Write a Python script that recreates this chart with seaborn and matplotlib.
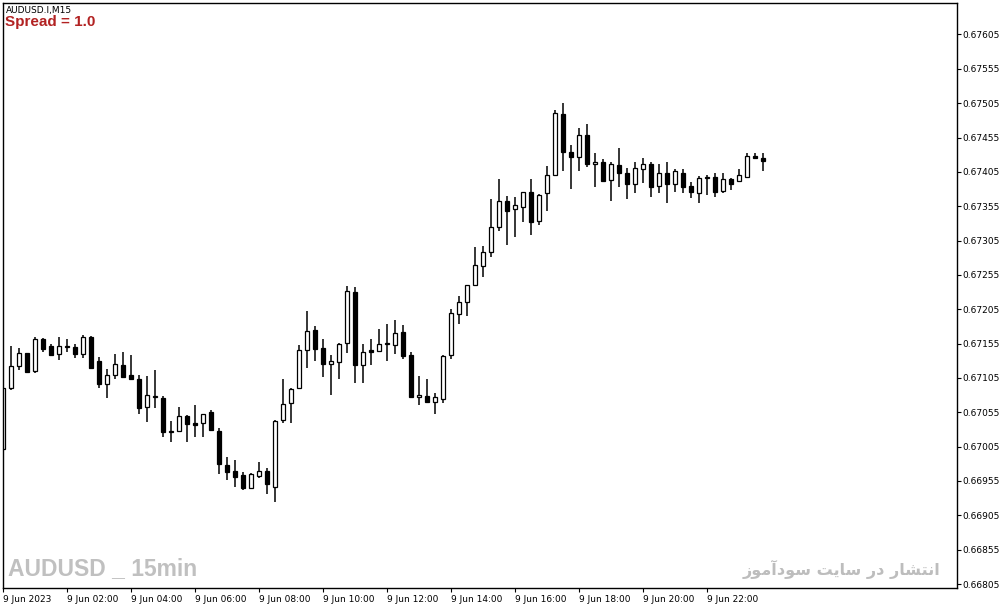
import numpy as np
import pandas as pd
import seaborn as sns
import matplotlib.pyplot as plt

# AUDUSD M15 candles, 9 Jun 2023 00:00 .. 23:45
opens = [0.67002, 0.67090, 0.67122, 0.67141, 0.67115, 0.67162, 0.67152, 0.67140, 0.67150, 0.67150,
         0.67140, 0.67165, 0.67130, 0.67096, 0.67109, 0.67124, 0.67109, 0.67103, 0.67063, 0.67077,
         0.67076, 0.67027, 0.67028, 0.67050, 0.67039, 0.67039, 0.67055, 0.67028, 0.66978, 0.66970,
         0.66964, 0.66945, 0.66962, 0.66970, 0.66946, 0.67044, 0.67068, 0.67090, 0.67146, 0.67175,
         0.67149, 0.67125, 0.67128, 0.67156, 0.67230, 0.67124, 0.67145, 0.67144, 0.67155, 0.67153,
         0.67172, 0.67138, 0.67077, 0.67079, 0.67070, 0.67074, 0.67138, 0.67198, 0.67215, 0.67240,
         0.67268, 0.67288, 0.67325, 0.67363, 0.67351, 0.67354, 0.67376, 0.67333, 0.67374, 0.67400,
         0.67489, 0.67434, 0.67427, 0.67459, 0.67416, 0.67419, 0.67393, 0.67415, 0.67403, 0.67387,
         0.67409, 0.67416, 0.67384, 0.67403, 0.67387, 0.67403, 0.67384, 0.67374, 0.67396, 0.67397,
         0.67377, 0.67395, 0.67392, 0.67397, 0.67428, 0.67425]
highs = [0.67120, 0.67151, 0.67149, 0.67142, 0.67165, 0.67163, 0.67154, 0.67165, 0.67162, 0.67154,
         0.67168, 0.67166, 0.67135, 0.67118, 0.67140, 0.67143, 0.67138, 0.67109, 0.67108, 0.67117,
         0.67079, 0.67042, 0.67063, 0.67051, 0.67066, 0.67053, 0.67058, 0.67032, 0.66990, 0.66986,
         0.66968, 0.66967, 0.66983, 0.66974, 0.67044, 0.67103, 0.67090, 0.67153, 0.67202, 0.67181,
         0.67162, 0.67138, 0.67156, 0.67239, 0.67237, 0.67154, 0.67162, 0.67176, 0.67184, 0.67189,
         0.67182, 0.67143, 0.67108, 0.67103, 0.67083, 0.67138, 0.67205, 0.67224, 0.67241, 0.67296,
         0.67297, 0.67365, 0.67395, 0.67370, 0.67368, 0.67376, 0.67395, 0.67373, 0.67414, 0.67495,
         0.67505, 0.67444, 0.67469, 0.67475, 0.67433, 0.67424, 0.67419, 0.67440, 0.67411, 0.67419,
         0.67425, 0.67419, 0.67416, 0.67419, 0.67409, 0.67409, 0.67390, 0.67399, 0.67400, 0.67403,
         0.67403, 0.67396, 0.67409, 0.67433, 0.67433, 0.67433]
lows = [0.66986, 0.67087, 0.67117, 0.67113, 0.67112, 0.67143, 0.67137, 0.67131, 0.67143, 0.67134,
        0.67134, 0.67118, 0.67090, 0.67076, 0.67103, 0.67105, 0.67102, 0.67052, 0.67041, 0.67061,
        0.67019, 0.67012, 0.67026, 0.67012, 0.67019, 0.67019, 0.67028, 0.66965, 0.66956, 0.66946,
        0.66942, 0.66943, 0.66959, 0.66936, 0.66924, 0.67039, 0.67039, 0.67089, 0.67120, 0.67130,
        0.67106, 0.67080, 0.67103, 0.67141, 0.67098, 0.67098, 0.67124, 0.67143, 0.67130, 0.67140,
        0.67133, 0.67076, 0.67066, 0.67069, 0.67052, 0.67068, 0.67133, 0.67184, 0.67195, 0.67239,
        0.67252, 0.67281, 0.67319, 0.67298, 0.67310, 0.67332, 0.67313, 0.67328, 0.67348, 0.67399,
        0.67406, 0.67380, 0.67406, 0.67412, 0.67383, 0.67391, 0.67363, 0.67383, 0.67365, 0.67374,
        0.67389, 0.67368, 0.67374, 0.67360, 0.67376, 0.67374, 0.67367, 0.67360, 0.67371, 0.67368,
        0.67374, 0.67379, 0.67391, 0.67396, 0.67425, 0.67406]
closes = [0.67090, 0.67122, 0.67141, 0.67114, 0.67162, 0.67147, 0.67138, 0.67152, 0.67151, 0.67140,
          0.67165, 0.67120, 0.67096, 0.67109, 0.67125, 0.67106, 0.67103, 0.67061, 0.67080, 0.67078,
          0.67026, 0.67028, 0.67050, 0.67038, 0.67036, 0.67052, 0.67029, 0.66980, 0.66968, 0.66961,
          0.66945, 0.66965, 0.66970, 0.66951, 0.67043, 0.67067, 0.67089, 0.67146, 0.67173, 0.67147,
          0.67125, 0.67130, 0.67154, 0.67232, 0.67124, 0.67143, 0.67143, 0.67154, 0.67156, 0.67170,
          0.67137, 0.67077, 0.67080, 0.67070, 0.67077, 0.67137, 0.67199, 0.67215, 0.67240, 0.67269,
          0.67288, 0.67325, 0.67363, 0.67348, 0.67357, 0.67375, 0.67332, 0.67372, 0.67400, 0.67491,
          0.67434, 0.67427, 0.67459, 0.67416, 0.67419, 0.67392, 0.67416, 0.67403, 0.67387, 0.67411,
          0.67416, 0.67383, 0.67403, 0.67387, 0.67406, 0.67383, 0.67376, 0.67396, 0.67397, 0.67376,
          0.67395, 0.67387, 0.67400, 0.67428, 0.67425, 0.67421]

time_labels = ["9 Jun 2023", "9 Jun 02:00", "9 Jun 04:00", "9 Jun 06:00", "9 Jun 08:00",
               "9 Jun 10:00", "9 Jun 12:00", "9 Jun 14:00", "9 Jun 16:00", "9 Jun 18:00",
               "9 Jun 20:00", "9 Jun 22:00"]
price_ticks = [0.66805, 0.66855, 0.66905, 0.66955, 0.67005, 0.67055, 0.67105, 0.67155, 0.67205,
               0.67255, 0.67305, 0.67355, 0.67405, 0.67455, 0.67505, 0.67555, 0.67605]

df = pd.DataFrame({"open": opens, "high": highs, "low": lows, "close": closes})
df["bar"] = np.arange(len(df))
df["up"] = df["close"] >= df["open"]
df["body_lo"] = df[["open", "close"]].min(axis=1)
df["body_h"] = (df["close"] - df["open"]).abs()

sns.set_theme(style="white")
plt.rcParams["font.family"] = ["DejaVu Sans"]

fig = plt.figure(figsize=(10.04, 6.09), dpi=100)
ax = fig.add_axes([3 / 1004, 21 / 609, 954 / 1004, 585 / 609])

# wicks then bodies
ax.vlines(df["bar"], df["low"], df["high"], color="black", lw=1.1, zorder=1)
ax.bar(df["bar"], df["body_h"], bottom=df["body_lo"], width=0.55,
       color=np.where(df["up"], "white", "black"), edgecolor="black", lw=0.9, zorder=2)

ax.set_xlim(0, 119.25)
ax.set_ylim(0.667992, 0.676508)

for s in ax.spines.values():
    s.set_color("black")
    s.set_linewidth(1.0)

ax.yaxis.tick_right()
ax.set_yticks(price_ticks)
ax.set_yticklabels([f"{v:.5f}" for v in price_ticks])
ax.tick_params(axis="y", right=True, left=False, direction="out", length=3, width=0.8,
               pad=1, labelsize=6.5, colors="black")
ax.set_xticks(np.arange(0, 96, 8))
ax.set_xticklabels(time_labels)
ax.tick_params(axis="x", bottom=True, direction="out", length=3, width=0.8,
               pad=2, labelsize=6.5, colors="black")
for lab in ax.get_xticklabels():
    lab.set_horizontalalignment("left")
ax.grid(False)

fig.text(6 / 1004, 1 - 10 / 609, "AUDUSD.I,M15", fontsize=6.5, va="center", color="black")
fig.text(5 / 1004, 1 - 22 / 609, "Spread = 1.0", fontsize=11, weight="bold", color="#b22222",
         va="center", family=["Liberation Sans", "DejaVu Sans"])
fig.text(8 / 1004, 1 - 569 / 609, "AUDUSD _ 15min", fontsize=16.5, weight="bold", color="#c0c0c0",
         va="center", family=["Liberation Sans", "DejaVu Sans"])

# "انتشار در سایت سودآموز" in shaped presentation forms, visual order (matplotlib has no bidi)
fa_text = ("\uFEAF\uFEEE\uFEE3\uFE81\uFEA9\uFEEE\uFEB3 \uFE96\uFEF3\uFE8E\uFEB3 "
           "\uFEAD\uFEA9 \uFEAD\uFE8E\uFEB8\uFE98\uFEE7\uFE8D")
fig.text(940 / 1004, 1 - 569 / 609, fa_text, fontsize=11.5, weight="bold", color="#bdbdbd",
         ha="right", va="center", family=["DejaVu Sans"])

fig.savefig("out.png", dpi=100)
